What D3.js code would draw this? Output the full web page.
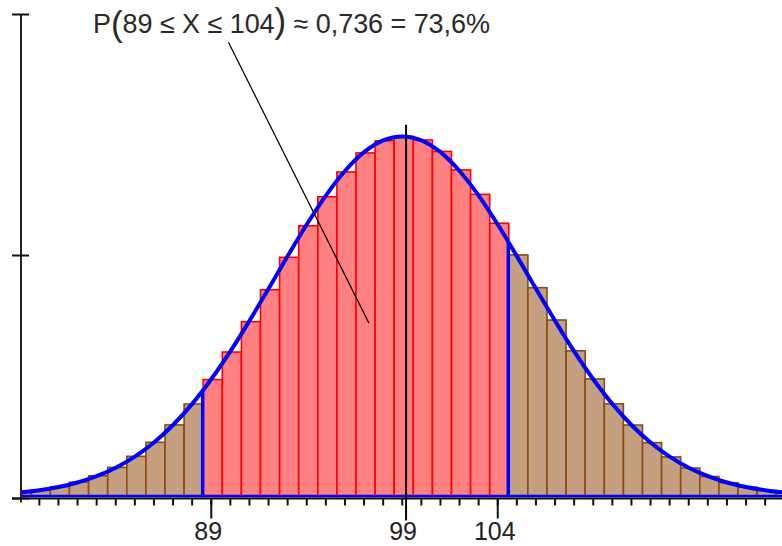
<!DOCTYPE html>
<html><head><meta charset="utf-8">
<script src="https://cdn.jsdelivr.net/npm/d3@7"></script>
<style>html,body{margin:0;padding:0;background:#fff;} svg{display:block;}</style>
</head><body>
<svg id="chart" width="782" height="546"></svg>
<script>
// ---- data ----
const outcomes = [79,80,81,82,83,84,85,86,87,88,89,90,91,92,93,94,95,96,97,98,99,
                  100,101,102,103,104,105,106,107,108,109,110,111,112,113,114,115,116,117,118,119];
const probabilities = [0.00070,0.00108,0.00163,0.00238,0.00344,0.00483,0.00667,0.00900,0.01188,0.01535,
                       0.01941,0.02398,0.02901,0.03432,0.03970,0.04493,0.04975,0.05386,0.05702,0.05903,
                       0.05977,0.05917,0.05728,0.05420,0.05015,0.04535,0.04010,0.03466,0.02929,0.02418,
                       0.01951,0.01539,0.01186,0.00894,0.00657,0.00473,0.00332,0.00228,0.00153,0.00100,0.00064];
const curveValues = [0.00067,0.00104,0.00158,0.00233,0.00338,0.00478,0.00662,0.00897,0.01187,0.01537,
                     0.01946,0.02408,0.02915,0.03449,0.03990,0.04514,0.04995,0.05403,0.05715,0.05910,
                     0.05977,0.05910,0.05715,0.05403,0.04995,0.04514,0.03990,0.03449,0.02915,0.02408,
                     0.01946,0.01537,0.01187,0.00897,0.00662,0.00478,0.00338,0.00233,0.00158,0.00104,0.00067];
const intervalLow = 89, intervalHigh = 104;
const meanMarker = 99.2;          // where the mean line is drawn
const meanLineTop = 0.0617;
const xTickLabels = [89, 99, 104];
const xTickLabelPos = [89, 99.2, 104];
const yTicks = [0, 0.04, 0.08];
const titleParts = ["P", "(", "89 \u2264 X \u2264 104", ")", " \u2248 0,736 = 73,6%"];
const pointerFrom = [89.9, 0.0754];
const pointerTo = [97.25, 0.0288];

// ---- layout ----
const W = 782, H = 546;
const svg = d3.select("#chart");
const x = d3.scaleLinear().domain([79, 119]).range([20.25, 784.25]);
const y = d3.scaleLinear().domain([0, 0.08]).range([496.5, 14.5]);
const axisX = 21;
const font = "'Liberation Sans', Arial, sans-serif";

const defs = svg.append("defs");
defs.append("clipPath").attr("id", "plot")
  .append("rect").attr("x", axisX).attr("y", 0).attr("width", W - axisX).attr("height", H);

const curvePts = outcomes.map((k, i) => [k, curveValues[i]]);
const areaGen = d3.area().x(d => x(d[0])).y0(y(0)).y1(d => y(d[1])).curve(d3.curveCatmullRom);
defs.append("clipPath").attr("id", "under")
  .append("path").attr("d", areaGen(curvePts));

const plot = svg.append("g").attr("clip-path", "url(#plot)");

// bars
const bars = outcomes.map((k, i) => ({k, p: probabilities[i]}));
plot.selectAll("rect.bar").data(bars).join("rect")
  .attr("class", "bar")
  .attr("x", d => x(d.k - 0.5) + 1.5)
  .attr("width", d => x(d.k + 0.5) - x(d.k - 0.5))
  .attr("y", d => y(d.p))
  .attr("height", d => y(0) - y(d.p))
  .attr("fill", d => (d.k >= intervalLow && d.k <= intervalHigh) ? "#FF8080" : "#C4A080")
  .attr("stroke", d => (d.k >= intervalLow && d.k <= intervalHigh) ? "#FF0000" : "#8B4A10")
  .attr("stroke-width", 1.6);

// blue boundary lines (clipped under the curve)
plot.append("g").attr("clip-path", "url(#under)")
  .selectAll("line").data([intervalLow - 0.5, intervalHigh + 0.5]).join("line")
  .attr("x1", d => x(d) + 1).attr("x2", d => x(d) + 1)
  .attr("y1", y(0)).attr("y2", y(0.08))
  .attr("stroke", "#0000FF").attr("stroke-width", 3.5);

// blue baseline
plot.append("line")
  .attr("x1", axisX).attr("x2", W).attr("y1", y(0) - 0.5).attr("y2", y(0) - 0.5)
  .attr("stroke", "#0000FF").attr("stroke-width", 2.5);

// curve
const lineGen = d3.line().x(d => x(d[0])).y(d => y(d[1])).curve(d3.curveCatmullRom);
plot.append("path").attr("d", lineGen(curvePts))
  .attr("fill", "none").attr("stroke", "#0000FF").attr("stroke-width", 4)
  .attr("stroke-linejoin", "round");

// axes
const axisY0 = y(0) + 2;
svg.append("line").attr("x1", 12).attr("x2", W).attr("y1", axisY0).attr("y2", axisY0)
  .attr("stroke", "#111").attr("stroke-width", 2);
svg.append("line").attr("x1", axisX).attr("x2", axisX).attr("y1", y(0.08)).attr("y2", axisY0 + 4)
  .attr("stroke", "#222").attr("stroke-width", 2);
svg.selectAll("line.ytick").data(yTicks).join("line").attr("class", "ytick")
  .attr("x1", 12).attr("x2", 29)
  .attr("y1", d => d === 0 ? axisY0 : y(d)).attr("y2", d => d === 0 ? axisY0 : y(d))
  .attr("stroke", "#111").attr("stroke-width", 2);

// x ticks
const minorTicks = outcomes.filter(k => x(k) > axisX + 5 && x(k) < W);
svg.selectAll("line.xtick").data(minorTicks).join("line").attr("class", "xtick")
  .attr("x1", d => x(d)).attr("x2", d => x(d))
  .attr("y1", axisY0).attr("y2", axisY0 + 7)
  .attr("stroke", "#111").attr("stroke-width", 2);
svg.selectAll("line.major").data([intervalLow, intervalHigh]).join("line").attr("class", "major")
  .attr("x1", d => x(d)).attr("x2", d => x(d))
  .attr("y1", axisY0).attr("y2", axisY0 + 20)
  .attr("stroke", "#111").attr("stroke-width", 2);

// mean line
svg.append("line")
  .attr("x1", x(meanMarker)).attr("x2", x(meanMarker))
  .attr("y1", y(meanLineTop)).attr("y2", axisY0 + 22)
  .attr("stroke", "#000").attr("stroke-width", 2);

// labels
svg.selectAll("text.xl").data(xTickLabels).join("text").attr("class", "xl")
  .attr("x", (d, i) => x(xTickLabelPos[i]) - 3)
  .attr("y", 540)
  .attr("text-anchor", "middle")
  .attr("font-family", font).attr("font-size", 25).attr("fill", "#222")
  .text(d => d);

// pointer line
svg.append("line")
  .attr("x1", x(pointerFrom[0])).attr("y1", y(pointerFrom[1]))
  .attr("x2", x(pointerTo[0])).attr("y2", y(pointerTo[1]))
  .attr("stroke", "#000").attr("stroke-width", 1.3);

// title
const t = svg.append("text").attr("x", 93).attr("y", 33)
  .attr("font-family", font).attr("font-size", 27).attr("fill", "#2a2a2a")
  .attr("textLength", 397).attr("lengthAdjust", "spacing");
titleParts.forEach((s, i) => {
  const ts = t.append("tspan").text(s);
  if (s === "(" || s === ")") ts.attr("font-size", 35).attr("dy", i === 1 ? 3 : 0);
  if (i === 2) ts.attr("dy", -3);
});
</script>
</body></html>
